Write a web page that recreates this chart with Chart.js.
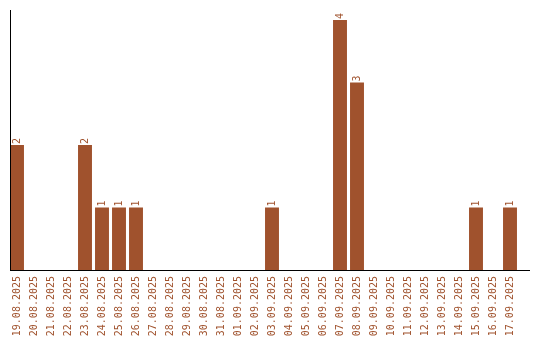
<!DOCTYPE html>
<html>
<head>
<meta charset="utf-8">
<script src="https://cdn.jsdelivr.net/npm/chart.js@4"></script>
<style>
html,body{margin:0;padding:0;background:#fff;}
#wrap{width:540px;height:340px;position:relative;}
</style>
</head>
<body>
<div id="wrap"><canvas id="c"></canvas></div>
<script>
const categories = ["19.08.2025","20.08.2025","21.08.2025","22.08.2025","23.08.2025","24.08.2025","25.08.2025","26.08.2025","27.08.2025","28.08.2025","29.08.2025","30.08.2025","31.08.2025","01.09.2025","02.09.2025","03.09.2025","04.09.2025","05.09.2025","06.09.2025","07.09.2025","08.09.2025","09.09.2025","10.09.2025","11.09.2025","12.09.2025","13.09.2025","14.09.2025","15.09.2025","16.09.2025","17.09.2025"];
const counts = [2,0,0,0,2,1,1,1,0,0,0,0,0,0,0,1,0,0,0,4,3,0,0,0,0,0,0,1,0,1];
const yMax = 4.16;

const COLOR = '#A0522D';
const FONT = '10px "DejaVu Sans Mono", monospace';

const axisLines = {
  id: 'axisLines',
  afterDatasetsDraw(chart) {
    const ctx = chart.ctx, a = chart.chartArea;
    ctx.save();
    ctx.strokeStyle = '#000';
    ctx.lineWidth = 1;
    ctx.beginPath();
    ctx.moveTo(10.5, a.top);
    ctx.lineTo(10.5, a.bottom + 0.5);
    ctx.moveTo(10, a.bottom + 0.5);
    ctx.lineTo(530, a.bottom + 0.5);
    ctx.stroke();
    ctx.restore();
  }
};

const valueLabels = {
  id: 'valueLabels',
  afterDatasetsDraw(chart) {
    const ctx = chart.ctx;
    const meta = chart.getDatasetMeta(0);
    ctx.save();
    ctx.fillStyle = COLOR;
    ctx.font = FONT;
    meta.data.forEach((bar, i) => {
      const v = chart.data.datasets[0].data[i];
      if (!v) return;
      ctx.save();
      ctx.translate(bar.x, bar.y - 1);
      ctx.rotate(-Math.PI / 2);
      ctx.textAlign = 'left';
      ctx.textBaseline = 'middle';
      ctx.fillText(String(v), 0, 0);
      ctx.restore();
    });
    ctx.restore();
  }
};

new Chart(document.getElementById('c'), {
  type: 'bar',
  data: {
    labels: categories,
    datasets: [{
      data: counts,
      backgroundColor: COLOR,
      borderWidth: 0,
      categoryPercentage: 1,
      barPercentage: 0.82
    }]
  },
  options: {
    responsive: true,
    maintainAspectRatio: false,
    animation: false,
    devicePixelRatio: 1,
    layout: { padding: { left: 8.5, right: 21.5, top: 10, bottom: 0 } },
    plugins: { legend: { display: false }, tooltip: { enabled: false } },
    scales: {
      x: {
        grid: { display: false, drawTicks: false },
        border: { display: false },
        ticks: {
          color: COLOR,
          font: { family: '"DejaVu Sans Mono", monospace', size: 10 },
          minRotation: 90,
          maxRotation: 90,
          padding: 6,
          autoSkip: false
        },
        afterFit(scale) { scale.height = 70; }
      },
      y: {
        display: false,
        min: 0,
        max: yMax
      }
    }
  },
  plugins: [axisLines, valueLabels]
});
</script>
</body>
</html>
